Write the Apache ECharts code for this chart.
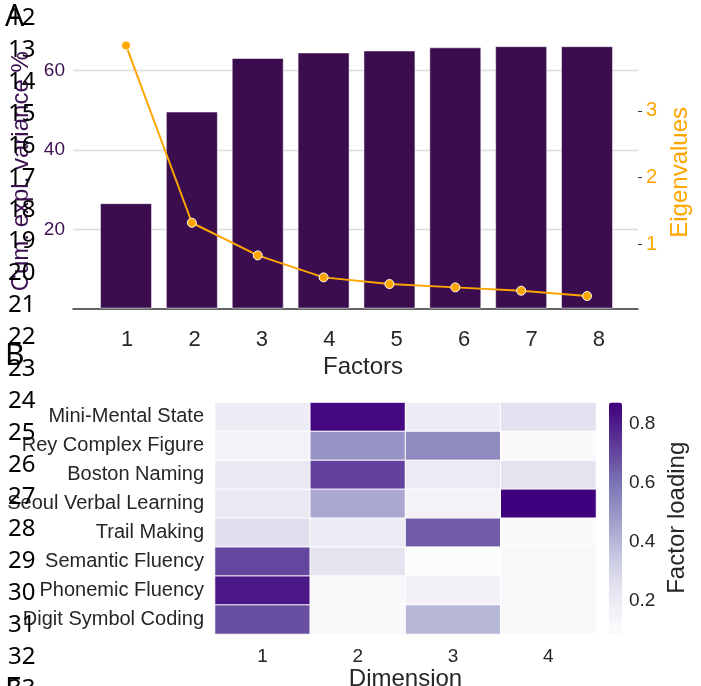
<!DOCTYPE html>
<html>
<head>
<meta charset="utf-8">
<script src="https://cdn.jsdelivr.net/npm/echarts@6/dist/echarts.min.js"></script>
<style>
  html, body { margin: 0; padding: 0; background: #ffffff; }
  #chart { width: 701px; height: 686px; }
</style>
</head>
<body>
<div id="chart"></div>
<script>
// Panel A: factor scree data
const factors = ['1', '2', '3', '4', '5', '6', '7', '8'];
const cumVariance = [26.6, 49.7, 63.2, 64.6, 65.1, 65.9, 66.2, 66.2];
const eigenvalues = [3.98, 1.32, 0.83, 0.50, 0.40, 0.35, 0.30, 0.22];
const varianceTicks = [20, 40, 60];
const eigenTicks = [1, 2, 3];

// Panel B: factor loadings per test (rows) and dimension (columns)
const tests = ['Mini-Mental State', 'Rey Complex Figure', 'Boston Naming', 'Seoul Verbal Learning',
               'Trail Making', 'Semantic Fluency', 'Phonemic Fluency', 'Digit Symbol Coding'];
const dimensions = ['1', '2', '3', '4'];
const mmsLoadings      = [0.19, 0.85, 0.19, 0.25];
const reyLoadings      = [0.15, 0.50, 0.53, 0.10];
const bostonLoadings   = [0.21, 0.71, 0.20, 0.24];
const seoulLoadings    = [0.21, 0.44, 0.15, 0.871];
const trailLoadings    = [0.26, 0.20, 0.65, 0.10];
const semanticLoadings = [0.70, 0.24, 0.089, 0.12];
const phonemicLoadings = [0.81, 0.12, 0.16, 0.12];
const digitLoadings    = [0.68, 0.11, 0.40, 0.11];
const loadingTicks = [0.2, 0.4, 0.6, 0.8];

// Page margin text
const panelLetters = ['A', 'B', 'F'];
const lineNumbers = ['12', '13', '14', '15', '16', '17', '18', '19', '20', '21', '22',
                     '23', '24', '25', '26', '27', '28', '29', '30', '31', '32', '33'];

const loadingRows = [mmsLoadings, reyLoadings, bostonLoadings, seoulLoadings,
                     trailLoadings, semanticLoadings, phonemicLoadings, digitLoadings];
const heatData = [];
loadingRows.forEach((row, r) => row.forEach((v, c) => heatData.push([c, r, v])));
const loadMin = Math.min(...heatData.map(d => d[2]));
const loadMax = Math.max(...heatData.map(d => d[2]));

const purples = ['#fcfbfd', '#efedf5', '#dadaeb', '#bcbddc', '#9e9ac8', '#807dba', '#6a51a3', '#54278f', '#3f007d'];
const ink = '#262626';
const barPurple = '#3b0d4f';
const orange = '#ffa500';

const marginText = [];
lineNumbers.forEach((t, i) => {
  marginText.push({
    type: 'text', z: 100,
    style: { text: t, x: 8, y: 18 + i * 31.95, font: '24px "Noto Sans"', fill: '#000',
             textVerticalAlign: 'middle', verticalAlign: 'middle' }
  });
});
const letterY = [17, 356, 690];
panelLetters.forEach((t, i) => {
  marginText.push({
    type: 'text', z: 100,
    style: { text: t, x: 5, y: letterY[i], font: '30px "Noto Sans"', fill: '#000',
             textVerticalAlign: 'middle', verticalAlign: 'middle' }
  });
});

const chart = echarts.init(document.getElementById('chart'), null, { renderer: 'canvas', width: 701, height: 686 });

const option = {
  animation: false,
  backgroundColor: '#ffffff',
  textStyle: { fontFamily: '"Liberation Sans", Arial, sans-serif' },
  grid: [
    { left: 73, right: 63, top: 34, bottom: 377.4, outerBoundsMode: 'none' },      // bars
    { left: 73, right: 63, top: 34, bottom: 375.3, outerBoundsMode: 'none' },      // eigenvalue line
    { left: 93.4, right: 68.4, top: 34, bottom: 377.4, outerBoundsMode: 'none' },  // factor labels
    { left: 215, right: 105, top: 402.5, bottom: 52, outerBoundsMode: 'none' },    // heatmap
    { left: 609, right: 79, top: 402.5, bottom: 53, outerBoundsMode: 'none' }      // colorbar axis
  ],
  xAxis: [
    { gridIndex: 0, type: 'value', min: 0.195, max: 8.774,
      axisLine: { lineStyle: { color: '#333333', width: 1.5 } },
      axisTick: { show: false }, axisLabel: { show: false }, splitLine: { show: false } },
    { gridIndex: 1, type: 'value', min: 0.195, max: 8.774, show: false },
    { gridIndex: 2, type: 'category', data: factors,
      axisLine: { show: false }, axisTick: { show: false },
      axisLabel: { fontSize: 22, color: ink, margin: 20 },
      name: 'Factors', nameLocation: 'middle', nameGap: 47,
      nameTextStyle: { fontSize: 24, color: ink } },
    { gridIndex: 3, type: 'category', data: dimensions,
      axisLine: { show: false }, axisTick: { show: false }, splitArea: { show: false },
      axisLabel: { fontSize: 19, color: ink, margin: 13 },
      name: 'Dimension', nameLocation: 'middle', nameGap: 32,
      nameTextStyle: { fontSize: 24, color: ink } },
    { gridIndex: 4, type: 'value', show: false }
  ],
  yAxis: [
    { gridIndex: 0, type: 'value', min: 0, max: 69.26,
      axisLine: { show: false },
      axisTick: { show: false, customValues: varianceTicks },
      axisLabel: { fontSize: 19, color: '#3d1052', margin: 8, customValues: varianceTicks },
      splitLine: { show: true, lineStyle: { color: '#dcdcdc', width: 1.3 } },
      name: 'Cum. expl. variance %', nameLocation: 'middle', nameGap: 40,
      nameTextStyle: { fontSize: 24, color: '#3d1052' } },
    { gridIndex: 1, type: 'value', position: 'right', min: 0, max: 4.152,
      axisLine: { show: false },
      axisTick: { show: true, inside: false, length: 4, customValues: eigenTicks,
                  lineStyle: { color: '#333333', width: 1 } },
      axisLabel: { fontSize: 20, color: orange, margin: 8, customValues: eigenTicks },
      splitLine: { show: false },
      name: 'Eigenvalues', nameLocation: 'middle', nameGap: 27,
      nameTextStyle: { fontSize: 24, color: orange } },
    { gridIndex: 2, type: 'value', show: false },
    { gridIndex: 3, type: 'category', data: tests, inverse: true,
      axisLine: { show: false }, axisTick: { show: false },
      axisLabel: { fontSize: 20, color: ink, margin: 11 } },
    { gridIndex: 4, type: 'value', position: 'right', min: loadMin, max: loadMax,
      axisLine: { show: false },
      axisTick: { show: true, length: 4, customValues: loadingTicks,
                  lineStyle: { color: '#333333', width: 1 } },
      axisLabel: { fontSize: 19, color: ink, margin: 7, customValues: loadingTicks,
                   formatter: v => v.toFixed(1) },
      splitLine: { show: false },
      name: 'Factor loading', nameLocation: 'middle', nameGap: 43,
      nameTextStyle: { fontSize: 24, color: ink } }
  ],
  visualMap: {
    type: 'continuous', seriesIndex: 2, min: loadMin, max: loadMax,
    inRange: { color: purples },
    orient: 'vertical', left: 609, top: 402.5, padding: 0,
    itemWidth: 13, itemHeight: 231, calculable: false, hoverLink: false
  },
  series: [
    { type: 'bar', xAxisIndex: 0, yAxisIndex: 0, barWidth: 52,
      data: cumVariance.map((v, i) => [Number(factors[i]), v]),
      itemStyle: { color: barPurple, borderColor: 'rgba(255,255,255,0.5)', borderWidth: 1 } },
    { type: 'line', xAxisIndex: 1, yAxisIndex: 1, z: 5,
      data: eigenvalues.map((v, i) => [Number(factors[i]), v]),
      lineStyle: { color: orange, width: 2 },
      symbol: 'circle', symbolSize: 9,
      itemStyle: { color: orange, borderColor: '#ffffff', borderWidth: 1 } },
    { type: 'heatmap', xAxisIndex: 3, yAxisIndex: 3, data: heatData,
      itemStyle: { borderColor: '#ffffff', borderWidth: 1 } }
  ],
  graphic: marginText
};

chart.setOption(option);
</script>
</body>
</html>
